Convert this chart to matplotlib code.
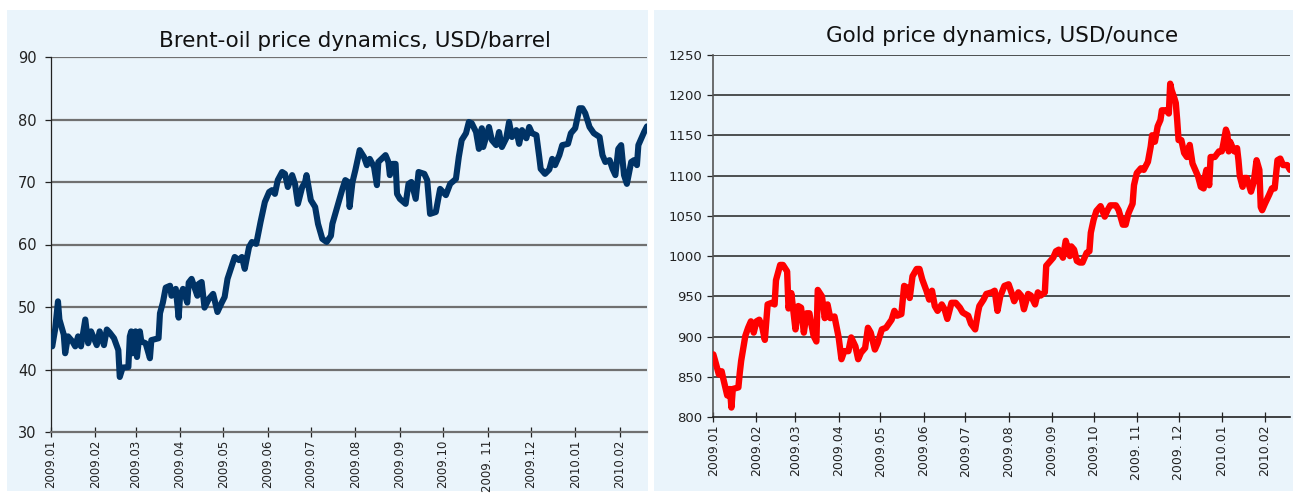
import pandas as pd
import matplotlib
matplotlib.use("Agg")
import matplotlib.pyplot as plt
from matplotlib.patches import Rectangle

# -----------------------------
# Data
# -----------------------------
oil_dates = [
    "2009-01-02", "2009-01-04", "2009-01-06", "2009-01-07", "2009-01-10", "2009-01-11", "2009-01-13",
    "2009-01-16", "2009-01-18", "2009-01-20", "2009-01-22", "2009-01-25", "2009-01-27", "2009-01-29",
    "2009-02-02", "2009-02-04", "2009-02-07", "2009-02-09", "2009-02-11", "2009-02-14", "2009-02-16",
    "2009-02-17", "2009-02-18", "2009-02-20", "2009-02-24", "2009-02-25", "2009-02-26", "2009-02-27",
    "2009-03-01", "2009-03-02", "2009-03-04", "2009-03-05", "2009-03-08", "2009-03-11", "2009-03-12",
    "2009-03-17", "2009-03-18", "2009-03-20", "2009-03-22", "2009-03-25", "2009-03-26", "2009-03-29",
    "2009-03-31", "2009-04-01", "2009-04-03", "2009-04-06", "2009-04-07", "2009-04-09", "2009-04-13",
    "2009-04-14", "2009-04-16", "2009-04-18", "2009-04-21", "2009-04-24", "2009-04-27", "2009-04-30",
    "2009-05-02", "2009-05-04", "2009-05-07", "2009-05-09", "2009-05-12", "2009-05-14", "2009-05-16",
    "2009-05-19", "2009-05-21", "2009-05-24", "2009-05-27", "2009-05-30", "2009-06-02", "2009-06-04",
    "2009-06-06", "2009-06-08", "2009-06-11", "2009-06-13", "2009-06-15", "2009-06-18", "2009-06-20",
    "2009-06-22", "2009-06-25", "2009-06-27", "2009-06-28", "2009-07-01", "2009-07-04", "2009-07-06",
    "2009-07-09", "2009-07-12", "2009-07-15", "2009-07-16", "2009-07-18", "2009-07-20", "2009-07-23",
    "2009-07-25", "2009-07-27", "2009-07-28", "2009-07-30", "2009-08-01", "2009-08-04", "2009-08-07",
    "2009-08-09", "2009-08-11", "2009-08-14", "2009-08-16", "2009-08-17", "2009-08-22", "2009-08-24",
    "2009-08-25", "2009-08-27", "2009-08-29", "2009-08-30", "2009-09-01", "2009-09-05", "2009-09-07",
    "2009-09-09", "2009-09-12", "2009-09-14", "2009-09-18", "2009-09-20", "2009-09-22", "2009-09-26",
    "2009-09-29", "2009-10-03", "2009-10-06", "2009-10-10", "2009-10-12", "2009-10-14", "2009-10-17",
    "2009-10-19", "2009-10-21", "2009-10-24", "2009-10-26", "2009-10-28", "2009-10-29", "2009-11-02",
    "2009-11-04", "2009-11-07", "2009-11-09", "2009-11-11", "2009-11-14", "2009-11-16", "2009-11-18",
    "2009-11-21", "2009-11-23", "2009-11-25", "2009-11-28", "2009-11-30", "2009-12-02", "2009-12-05",
    "2009-12-07", "2009-12-08", "2009-12-11", "2009-12-14", "2009-12-16", "2009-12-18", "2009-12-21",
    "2009-12-23", "2009-12-27", "2009-12-29", "2010-01-01", "2010-01-04", "2010-01-06", "2010-01-08",
    "2010-01-11", "2010-01-14", "2010-01-18", "2010-01-20", "2010-01-22", "2010-01-25", "2010-01-27",
    "2010-01-29", "2010-01-31", "2010-02-02", "2010-02-04", "2010-02-06", "2010-02-09", "2010-02-11",
    "2010-02-13", "2010-02-14", "2010-02-18", "2010-02-20",
]
oil_prices = [
    43.7, 46.4, 50.9, 48.0, 45.6, 42.6, 45.3,
    44.5, 43.7, 45.3, 43.7, 48.0, 44.2, 46.1,
    43.9, 46.1, 43.9, 46.4, 45.9, 45.0, 43.7,
    43.1, 38.8, 40.3, 40.4, 45.3, 46.1, 42.6,
    46.1, 42.0, 46.1, 44.5, 44.2, 41.8, 44.7,
    45.0, 49.0, 50.7, 53.1, 53.4, 51.8, 52.9,
    48.3, 51.8, 52.9, 50.7, 53.9, 54.5, 51.8,
    53.7, 54.0, 49.9, 51.3, 52.1, 49.2, 50.7,
    51.6, 54.5, 56.6, 58.0, 57.5, 58.0, 56.1,
    59.6, 60.4, 60.1, 63.6, 66.8, 68.4, 68.7,
    68.1, 70.3, 71.6, 71.3, 69.2, 71.1, 69.7,
    66.5, 69.2, 70.0, 71.1, 67.1, 66.0, 63.3,
    60.9, 60.4, 61.4, 63.3, 64.9, 66.5, 68.9,
    70.3, 70.0, 66.0, 70.0, 71.9, 75.1, 74.0,
    72.7, 73.7, 72.4, 69.5, 73.2, 74.3, 73.2,
    71.1, 72.9, 72.9, 68.1, 67.3, 66.5, 69.7,
    70.0, 67.3, 71.6, 71.3, 70.3, 64.9, 65.2,
    68.9, 67.9, 69.7, 70.5, 74.0, 76.7, 77.8,
    79.6, 79.4, 78.0, 75.3, 78.6, 75.6, 78.8,
    76.7, 75.9, 78.0, 75.6, 77.0, 79.6, 77.2,
    78.3, 76.1, 78.3, 77.0, 78.8, 77.8, 77.5,
    74.0, 72.1, 71.3, 72.0, 73.7, 72.7, 74.3,
    75.9, 76.1, 77.8, 78.6, 81.8, 81.8, 81.0,
    78.8, 77.8, 77.2, 74.3, 73.2, 73.5, 72.1,
    71.1, 75.3, 75.9, 71.1, 69.7, 73.2, 73.5,
    72.7, 75.9, 78.0, 78.9,
]

gold_dates = [
    "2009-01-01", "2009-01-02", "2009-01-05", "2009-01-07", "2009-01-08", "2009-01-11", "2009-01-13",
    "2009-01-14", "2009-01-15", "2009-01-19", "2009-01-20", "2009-01-21", "2009-01-24", "2009-01-26",
    "2009-01-28", "2009-01-30", "2009-02-01", "2009-02-03", "2009-02-05", "2009-02-07", "2009-02-09",
    "2009-02-12", "2009-02-14", "2009-02-15", "2009-02-18", "2009-02-20", "2009-02-23", "2009-02-24",
    "2009-02-26", "2009-03-01", "2009-03-03", "2009-03-05", "2009-03-07", "2009-03-09", "2009-03-11",
    "2009-03-12", "2009-03-14", "2009-03-16", "2009-03-17", "2009-03-20", "2009-03-22", "2009-03-24",
    "2009-03-26", "2009-03-29", "2009-04-01", "2009-04-03", "2009-04-05", "2009-04-08", "2009-04-10",
    "2009-04-13", "2009-04-15", "2009-04-17", "2009-04-20", "2009-04-22", "2009-04-24", "2009-04-27",
    "2009-04-29", "2009-05-02", "2009-05-05", "2009-05-09", "2009-05-11", "2009-05-13", "2009-05-16",
    "2009-05-17", "2009-05-18", "2009-05-20", "2009-05-22", "2009-05-24", "2009-05-27", "2009-05-29",
    "2009-05-31", "2009-06-03", "2009-06-05", "2009-06-07", "2009-06-09", "2009-06-11", "2009-06-14",
    "2009-06-16", "2009-06-18", "2009-06-21", "2009-06-24", "2009-06-27", "2009-06-29", "2009-07-03",
    "2009-07-05", "2009-07-08", "2009-07-10", "2009-07-11", "2009-07-14", "2009-07-16", "2009-07-20",
    "2009-07-22", "2009-07-24", "2009-07-26", "2009-07-29", "2009-08-01", "2009-08-03", "2009-08-05",
    "2009-08-08", "2009-08-10", "2009-08-12", "2009-08-15", "2009-08-17", "2009-08-20", "2009-08-22",
    "2009-08-24", "2009-08-27", "2009-08-28", "2009-08-30", "2009-09-02", "2009-09-04", "2009-09-06",
    "2009-09-09", "2009-09-11", "2009-09-14", "2009-09-15", "2009-09-17", "2009-09-19", "2009-09-21",
    "2009-09-23", "2009-09-26", "2009-09-28", "2009-09-29", "2009-10-01", "2009-10-03", "2009-10-06",
    "2009-10-09", "2009-10-11", "2009-10-13", "2009-10-17", "2009-10-19", "2009-10-22", "2009-10-24",
    "2009-10-26", "2009-10-29", "2009-10-30", "2009-11-01", "2009-11-04", "2009-11-06", "2009-11-09",
    "2009-11-11", "2009-11-12", "2009-11-14", "2009-11-16", "2009-11-18", "2009-11-19", "2009-11-22",
    "2009-11-24", "2009-11-25", "2009-11-26", "2009-11-28", "2009-11-29", "2009-11-30", "2009-12-01",
    "2009-12-03", "2009-12-05", "2009-12-07", "2009-12-09", "2009-12-11", "2009-12-13", "2009-12-15",
    "2009-12-17", "2009-12-19", "2009-12-20", "2009-12-21", "2009-12-23", "2009-12-24", "2009-12-27",
    "2009-12-30", "2010-01-01", "2010-01-02", "2010-01-04", "2010-01-05", "2010-01-06", "2010-01-07",
    "2010-01-10", "2010-01-12", "2010-01-13", "2010-01-14", "2010-01-16", "2010-01-17", "2010-01-19",
    "2010-01-22", "2010-01-24", "2010-01-26", "2010-01-28", "2010-01-29", "2010-01-30", "2010-02-01",
    "2010-02-04", "2010-02-06", "2010-02-08", "2010-02-10", "2010-02-12", "2010-02-14", "2010-02-17",
    "2010-02-19",
]
gold_prices = [
    878, 872, 853, 857, 849, 827, 835,
    812, 835, 837, 855, 870, 901, 911,
    919, 905, 919, 921, 913, 896, 940,
    942, 940, 970, 989, 989, 981, 935,
    954, 909, 938, 936, 905, 929, 929,
    919, 901, 894, 958, 950, 923, 940,
    923, 925, 899, 872, 882, 882, 899,
    888, 872, 880, 886, 911, 905, 884,
    892, 909, 911, 921, 932, 926, 928,
    946, 963, 961, 948, 975, 984, 984,
    971, 957, 946, 957, 938, 932, 940,
    934, 922, 942, 942, 936, 930, 926,
    916, 909, 930, 938, 946, 953, 955,
    957, 932, 950, 963, 965, 955, 944,
    955, 951, 934, 953, 951, 940, 955,
    951, 955, 988, 992, 998, 1006, 1008,
    998, 1019, 1000, 1012, 1008, 994, 992,
    992, 1004, 1006, 1029, 1045, 1056, 1062,
    1049, 1057, 1063, 1063, 1057, 1039, 1039,
    1053, 1065, 1088, 1103, 1109, 1107, 1117,
    1136, 1150, 1142, 1161, 1169, 1181, 1181,
    1177, 1214, 1206, 1196, 1190, 1169, 1144,
    1144, 1128, 1123, 1138, 1115, 1107, 1099,
    1086, 1084, 1099, 1107, 1088, 1123, 1123,
    1130, 1130, 1138, 1157, 1152, 1130, 1142,
    1130, 1134, 1119, 1099, 1086, 1097, 1097,
    1080, 1092, 1119, 1107, 1061, 1057, 1065,
    1076, 1084, 1084, 1119, 1121, 1113, 1113,
    1107,
]

month_starts = pd.date_range("2009-01-01", "2010-02-01", freq="MS")
oil_labels = ["2009.01", "2009.02", "2009.03", "2009.04", "2009.05", "2009.06", "2009.07",
              "2009.08", "2009.09", "2009.10", "2009. 11", "2009.12", "2010.01", "2010.02"]
gold_labels = ["2009.01", "2009.02", "2009.03", "2009.04", "2009.05", "2009.06", "2009.07",
               "2009.08", "2009.09", "2009.10", "2009. 11", "2009. 12", "2010.01", "2010.02"]
oil_yticks = [30, 40, 50, 60, 70, 80, 90]
gold_yticks = [800, 850, 900, 950, 1000, 1050, 1100, 1150, 1200, 1250]

oil_x = pd.to_datetime(oil_dates)
gold_x = pd.to_datetime(gold_dates)

# -----------------------------
# Figure + panel backgrounds
# -----------------------------
W, H = 1293, 493
fig = plt.figure(figsize=(W / 100, H / 100), dpi=100, facecolor="white")
panel = "#eaf4fb"
fig.patches.append(Rectangle((7 / W, 2 / H), 641 / W, 481 / H, transform=fig.transFigure,
                             facecolor=panel, edgecolor="none", zorder=-10))
fig.patches.append(Rectangle((654 / W, 2 / H), 639 / W, 481 / H, transform=fig.transFigure,
                             facecolor=panel, edgecolor="none", zorder=-10))


def px_axes(x0, x1, ytop, ybot):
    return fig.add_axes([x0 / W, 1 - ybot / H, (x1 - x0) / W, (ybot - ytop) / H])


# -----------------------------
# LEFT: Brent oil
# -----------------------------
ax1 = px_axes(50.8, 647, 57, 432)
ax1.set_facecolor("none")
ax1.plot(oil_x, oil_prices, color="#003366", lw=4.4, solid_joinstyle="round",
         solid_capstyle="round", zorder=3)
ax1.set_xlim(pd.Timestamp("2009-01-01"), oil_x[-1])
ax1.set_ylim(30, 90)
ax1.set_yticks(oil_yticks)
ax1.set_yticklabels([str(v) for v in oil_yticks], fontsize=10.5, color="#222222")
ax1.set_xticks(month_starts)
ax1.set_xticklabels(oil_labels, rotation=90, fontsize=8.5, color="#222222")
for v in oil_yticks[1:]:
    ax1.axhline(v, color="#707070", lw=1.6, zorder=1)
for s in ["top", "right"]:
    ax1.spines[s].set_visible(False)
ax1.spines["left"].set_color("#222222")
ax1.spines["left"].set_linewidth(0.9)
ax1.spines["bottom"].set_color("#707070")
ax1.spines["bottom"].set_linewidth(1.6)
ax1.tick_params(axis="x", direction="inout", length=7, width=0.9, color="#222222", pad=2)
ax1.tick_params(axis="y", direction="out", length=4, width=0.9, color="#222222", pad=6)
ax1.set_title("Brent-oil price dynamics, USD/barrel", fontsize=15.5, pad=7, color="#111111",
              x=0.51)

# -----------------------------
# RIGHT: Gold
# -----------------------------
ax2 = px_axes(713.3, 1290, 54.7, 417.2)
ax2.set_facecolor("none")
ax2.plot(gold_x, gold_prices, color="#ff0000", lw=4.6, solid_joinstyle="round",
         solid_capstyle="round", zorder=3)
ax2.set_xlim(pd.Timestamp("2009-01-01"), gold_x[-1])
ax2.set_ylim(800, 1250)
ax2.set_yticks(gold_yticks)
ax2.set_yticklabels([str(v) for v in gold_yticks], fontsize=9.5, color="#222222")
ax2.set_xticks(month_starts)
ax2.set_xticklabels(gold_labels, rotation=90, fontsize=9, color="#222222")
for v in gold_yticks[1:]:
    ax2.axhline(v, color="#222222", lw=1.1, zorder=1)
for s in ["top", "right"]:
    ax2.spines[s].set_visible(False)
ax2.spines["left"].set_color("#555555")
ax2.spines["left"].set_linewidth(1.2)
ax2.spines["bottom"].set_color("#222222")
ax2.spines["bottom"].set_linewidth(1.2)
ax2.tick_params(axis="x", direction="inout", length=7, width=0.9, color="#222222", pad=2)
ax2.tick_params(axis="y", direction="out", length=4, width=0.9, color="#222222", pad=4)
ax2.set_title("Gold price dynamics, USD/ounce", fontsize=15.5, pad=9, color="#111111")

fig.savefig("out.png", dpi=100, facecolor="white")
